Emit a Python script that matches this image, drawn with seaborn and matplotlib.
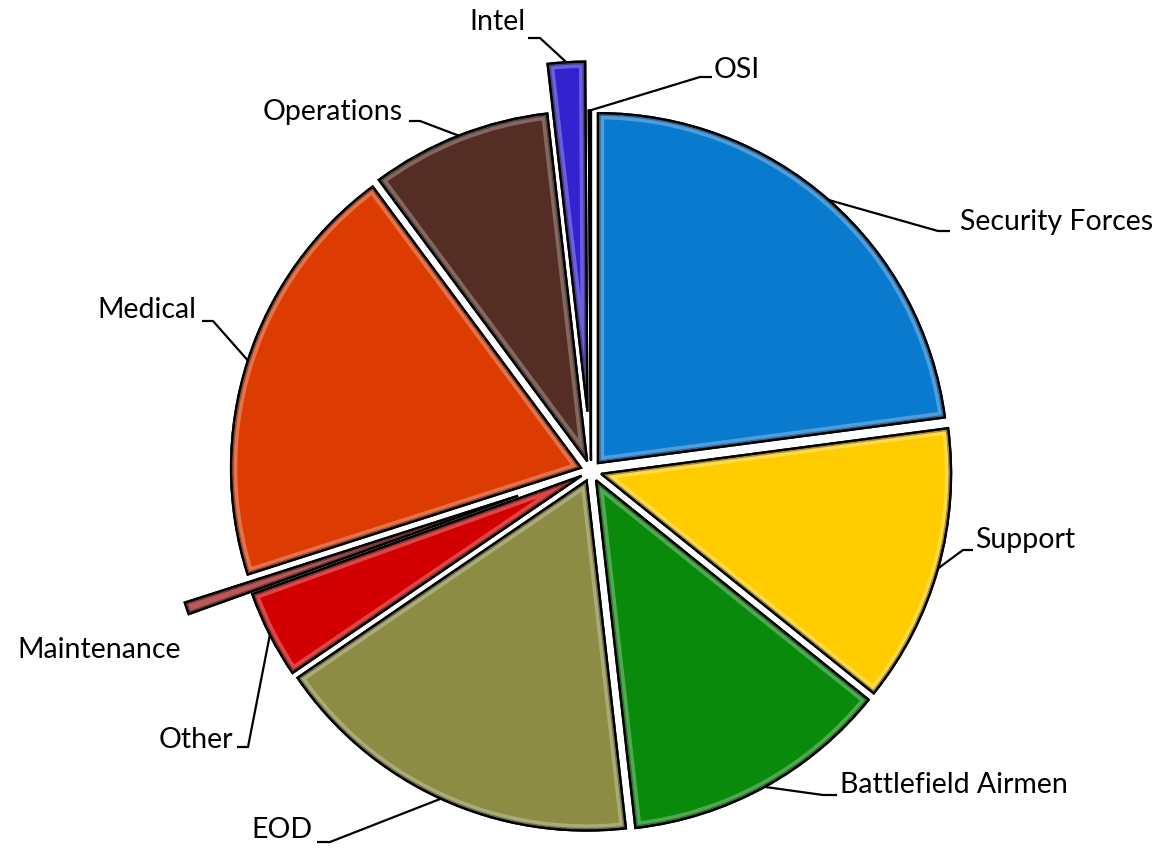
import numpy as np
import matplotlib
matplotlib.use("Agg")
import matplotlib.pyplot as plt
import seaborn as sns
from matplotlib.patches import Wedge

sns.set_theme(style="white")
plt.rcParams['font.family'] = ['Lato', 'DejaVu Sans']

# ---- data (clockwise from 12 o'clock) ----
categories = ["Security Forces", "Support", "Battlefield Airmen", "EOD", "Other",
              "Maintenance", "Medical", "Operations", "Intel", "OSI"]
values = [22.7, 12.75, 12.3, 17.1, 4.0, 0.55, 19.6, 8.25, 1.7, 0.1]
colors = ["#0A7ACF", "#FFCC00", "#0A8A0A", "#8C8C45", "#D20000",
          "#A31919", "#DC3C02", "#542E24", "#3222D0", "#7F7F7F"]
explode = [0.03, 0.03, 0.03, 0.03, 0.03, 0.22, 0.03, 0.03, 0.17, 0.03]

# ---- layout (pixels of the 1164x848 canvas) ----
W, H = 1164, 848
CX, CY = 591, 471          # pie centre
R = 350                    # pie radius in px

def px(x, y):
    return (x - CX) / R, (CY - y) / R

# text anchor (px), ha, leader horizontal segment (x_elbow, x_end, y)
label_layout = {
    "Security Forces":   ((960, 222), "left",  (938, 950, 231)),
    "Support":           ((975, 540), "left",  (963, 973, 550)),
    "Battlefield Airmen":((840, 785), "left",  (823, 837, 795)),
    "EOD":               ((313, 830), "right", (330, 317, 842)),
    "Other":             ((233, 740), "right", (248, 237, 747)),
    "Maintenance":       ((181, 650), "right", None),
    "Medical":           ((196, 310), "right", (213, 202, 321)),
    "Operations":        ((403, 112), "right", (420, 409, 121)),
    "Intel":             ((526, 22),  "right", (540, 528, 38)),
    "OSI":               ((714, 70),  "left",  (700, 712, 77)),
}

fig = plt.figure(figsize=(W / 100, H / 100), dpi=100)
ax = fig.add_axes([0, 0, 1, 1])

wedges, _ = ax.pie(values, colors=colors, explode=explode, startangle=90,
                   counterclock=False, radius=1.0,
                   wedgeprops=dict(edgecolor="black", linewidth=1.6))

# bevel imitation: lighter inner rim clipped to each wedge
for w, c in zip(wedges, colors):
    rim = Wedge(w.center, w.r, w.theta1, w.theta2, facecolor="none",
                edgecolor="white", linewidth=9, alpha=0.28, zorder=w.get_zorder() + 0.1)
    ax.add_patch(rim)
    rim.set_clip_path(w)
    dark = Wedge(w.center, w.r, w.theta1, w.theta2, facecolor="none",
                 edgecolor="black", linewidth=4, alpha=0.35, zorder=w.get_zorder() + 0.2)
    ax.add_patch(dark)
    dark.set_clip_path(w)
    edge = Wedge(w.center, w.r, w.theta1, w.theta2, facecolor="none",
                 edgecolor="black", linewidth=1.6, zorder=w.get_zorder() + 0.3)
    ax.add_patch(edge)

for w, name in zip(wedges, categories):
    (tx, ty), ha, seg = label_layout[name]
    x, y = px(tx, ty)
    ax.text(x, y, name, ha=ha, va="center", fontsize=20.5, color="black")
    if seg is None:
        continue
    mid = np.deg2rad((w.theta1 + w.theta2) / 2)
    sx = w.center[0] + w.r * np.cos(mid)
    sy = w.center[1] + w.r * np.sin(mid)
    ex, ey = px(seg[0], seg[2])
    fx, fy = px(seg[1], seg[2])
    ax.plot([sx, ex, fx], [sy, ey, fy], color="black", linewidth=1.6,
            solid_capstyle="butt", zorder=5)

ax.set_xlim(-CX / R, (W - CX) / R)
ax.set_ylim(-(H - CY) / R, CY / R)
ax.set_aspect("auto")
ax.axis("off")

fig.savefig("out.png", dpi=100)
